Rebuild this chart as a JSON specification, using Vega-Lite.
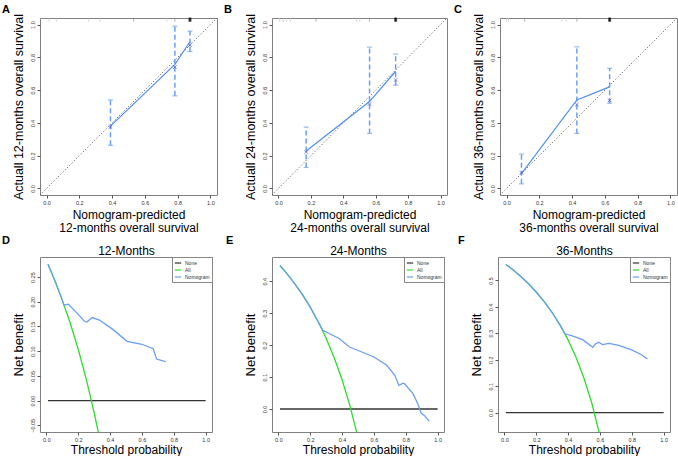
{
 "$schema": "https://vega.github.io/schema/vega-lite/v6.json",
 "background": "white",
 "padding": {"left": 1, "top": 3, "right": 0, "bottom": 0},
 "datasets": {
  "diag": [{"x": -0.04, "y": -0.04}, {"x": 1.04, "y": 1.04}],
  "calA": [{"x": 0.39, "obs": 0.38, "bc": 0.375, "lo": 0.263, "hi": 0.54}, {"x": 0.783, "obs": 0.757, "bc": 0.74, "lo": 0.565, "hi": 0.99}, {"x": 0.875, "obs": 0.895, "bc": 0.875, "lo": 0.836, "hi": 0.96}],
  "calB": [{"x": 0.171, "obs": 0.229, "bc": 0.222, "lo": 0.128, "hi": 0.374}, {"x": 0.562, "obs": 0.53, "bc": 0.515, "lo": 0.336, "hi": 0.862}, {"x": 0.723, "obs": 0.715, "bc": 0.662, "lo": 0.63, "hi": 0.82}],
  "calC": [{"x": 0.091, "obs": 0.09, "bc": 0.095, "lo": 0.028, "hi": 0.21}, {"x": 0.429, "obs": 0.54, "bc": 0.512, "lo": 0.336, "hi": 0.864}, {"x": 0.629, "obs": 0.62, "bc": 0.538, "lo": 0.52, "hi": 0.733}],
  "rugA": [{"x": 0.016, "kind": "light"}, {"x": 0.06, "kind": "light"}, {"x": 0.257, "kind": "light"}, {"x": 0.325, "kind": "light"}, {"x": 0.532, "kind": "mid"}, {"x": 0.733, "kind": "light"}, {"x": 0.783, "kind": "mid"}, {"x": 0.875, "kind": "dark"}],
  "rugB": [{"x": 0.006, "kind": "light"}, {"x": 0.03, "kind": "light"}, {"x": 0.05, "kind": "light"}, {"x": 0.074, "kind": "light"}, {"x": 0.231, "kind": "mid"}, {"x": 0.482, "kind": "light"}, {"x": 0.502, "kind": "light"}, {"x": 0.562, "kind": "mid"}, {"x": 0.723, "kind": "dark"}],
  "rugC": [{"x": 0.0, "kind": "light"}, {"x": 0.012, "kind": "light"}, {"x": 0.111, "kind": "mid"}, {"x": 0.336, "kind": "light"}, {"x": 0.363, "kind": "light"}, {"x": 0.429, "kind": "mid"}, {"x": 0.629, "kind": "dark"}],
  "dcaD": [
   {"model": "None", "pt": 0.01, "nb": 0}, {"model": "None", "pt": 1.0, "nb": 0},
   {"model": "All", "pt": 0.01, "nb": 0.2758}, {"model": "All", "pt": 0.05, "nb": 0.2453}, {"model": "All", "pt": 0.1, "nb": 0.2033}, {"model": "All", "pt": 0.15, "nb": 0.1565}, {"model": "All", "pt": 0.2, "nb": 0.1038}, {"model": "All", "pt": 0.25, "nb": 0.044}, {"model": "All", "pt": 0.3, "nb": -0.0243}, {"model": "All", "pt": 0.33, "nb": -0.0701},
   {"model": "Nomogram", "pt": 0.01, "nb": 0.2758}, {"model": "Nomogram", "pt": 0.05, "nb": 0.2453}, {"model": "Nomogram", "pt": 0.1, "nb": 0.2033}, {"model": "Nomogram", "pt": 0.11, "nb": 0.193}, {"model": "Nomogram", "pt": 0.138, "nb": 0.195}, {"model": "Nomogram", "pt": 0.19, "nb": 0.178}, {"model": "Nomogram", "pt": 0.24, "nb": 0.16}, {"model": "Nomogram", "pt": 0.255, "nb": 0.159}, {"model": "Nomogram", "pt": 0.287, "nb": 0.168}, {"model": "Nomogram", "pt": 0.333, "nb": 0.163}, {"model": "Nomogram", "pt": 0.415, "nb": 0.1446}, {"model": "Nomogram", "pt": 0.507, "nb": 0.12}, {"model": "Nomogram", "pt": 0.6, "nb": 0.114}, {"model": "Nomogram", "pt": 0.671, "nb": 0.105}, {"model": "Nomogram", "pt": 0.692, "nb": 0.084}, {"model": "Nomogram", "pt": 0.749, "nb": 0.079}
  ],
  "dcaE": [
   {"model": "None", "pt": 0.01, "nb": 0}, {"model": "None", "pt": 1.0, "nb": 0},
   {"model": "All", "pt": 0.01, "nb": 0.4495}, {"model": "All", "pt": 0.05, "nb": 0.4263}, {"model": "All", "pt": 0.1, "nb": 0.3944}, {"model": "All", "pt": 0.15, "nb": 0.3588}, {"model": "All", "pt": 0.2, "nb": 0.319}, {"model": "All", "pt": 0.25, "nb": 0.2733}, {"model": "All", "pt": 0.28, "nb": 0.2431}, {"model": "All", "pt": 0.3, "nb": 0.2214}, {"model": "All", "pt": 0.35, "nb": 0.1615}, {"model": "All", "pt": 0.4, "nb": 0.0917}, {"model": "All", "pt": 0.45, "nb": 0.0091}, {"model": "All", "pt": 0.5, "nb": -0.09},
   {"model": "Nomogram", "pt": 0.01, "nb": 0.4495}, {"model": "Nomogram", "pt": 0.05, "nb": 0.4263}, {"model": "Nomogram", "pt": 0.1, "nb": 0.3944}, {"model": "Nomogram", "pt": 0.15, "nb": 0.3588}, {"model": "Nomogram", "pt": 0.2, "nb": 0.319}, {"model": "Nomogram", "pt": 0.25, "nb": 0.2733}, {"model": "Nomogram", "pt": 0.28, "nb": 0.246}, {"model": "Nomogram", "pt": 0.313, "nb": 0.238}, {"model": "Nomogram", "pt": 0.384, "nb": 0.22}, {"model": "Nomogram", "pt": 0.446, "nb": 0.194}, {"model": "Nomogram", "pt": 0.497, "nb": 0.184}, {"model": "Nomogram", "pt": 0.6, "nb": 0.163}, {"model": "Nomogram", "pt": 0.681, "nb": 0.137}, {"model": "Nomogram", "pt": 0.732, "nb": 0.105}, {"model": "Nomogram", "pt": 0.757, "nb": 0.074}, {"model": "Nomogram", "pt": 0.783, "nb": 0.081}, {"model": "Nomogram", "pt": 0.793, "nb": 0.079}, {"model": "Nomogram", "pt": 0.845, "nb": 0.048}, {"model": "Nomogram", "pt": 0.875, "nb": 0.017}, {"model": "Nomogram", "pt": 0.896, "nb": -0.0125}, {"model": "Nomogram", "pt": 0.916, "nb": -0.02}, {"model": "Nomogram", "pt": 0.947, "nb": -0.038}
  ],
  "dcaF": [
   {"model": "None", "pt": 0.01, "nb": 0}, {"model": "None", "pt": 1.0, "nb": 0},
   {"model": "All", "pt": 0.01, "nb": 0.5606}, {"model": "All", "pt": 0.05, "nb": 0.5421}, {"model": "All", "pt": 0.1, "nb": 0.5167}, {"model": "All", "pt": 0.15, "nb": 0.4882}, {"model": "All", "pt": 0.2, "nb": 0.4562}, {"model": "All", "pt": 0.25, "nb": 0.42}, {"model": "All", "pt": 0.3, "nb": 0.3786}, {"model": "All", "pt": 0.35, "nb": 0.3308}, {"model": "All", "pt": 0.38, "nb": 0.298}, {"model": "All", "pt": 0.4, "nb": 0.275}, {"model": "All", "pt": 0.45, "nb": 0.2091}, {"model": "All", "pt": 0.5, "nb": 0.13}, {"model": "All", "pt": 0.55, "nb": 0.0333}, {"model": "All", "pt": 0.6, "nb": -0.0875},
   {"model": "Nomogram", "pt": 0.01, "nb": 0.5606}, {"model": "Nomogram", "pt": 0.05, "nb": 0.5421}, {"model": "Nomogram", "pt": 0.1, "nb": 0.5167}, {"model": "Nomogram", "pt": 0.15, "nb": 0.4882}, {"model": "Nomogram", "pt": 0.2, "nb": 0.4562}, {"model": "Nomogram", "pt": 0.25, "nb": 0.42}, {"model": "Nomogram", "pt": 0.3, "nb": 0.3786}, {"model": "Nomogram", "pt": 0.35, "nb": 0.3308}, {"model": "Nomogram", "pt": 0.38, "nb": 0.298}, {"model": "Nomogram", "pt": 0.422, "nb": 0.291}, {"model": "Nomogram", "pt": 0.494, "nb": 0.275}, {"model": "Nomogram", "pt": 0.555, "nb": 0.247}, {"model": "Nomogram", "pt": 0.571, "nb": 0.259}, {"model": "Nomogram", "pt": 0.592, "nb": 0.266}, {"model": "Nomogram", "pt": 0.616, "nb": 0.257}, {"model": "Nomogram", "pt": 0.657, "nb": 0.262}, {"model": "Nomogram", "pt": 0.718, "nb": 0.254}, {"model": "Nomogram", "pt": 0.8, "nb": 0.237}, {"model": "Nomogram", "pt": 0.861, "nb": 0.219}, {"model": "Nomogram", "pt": 0.898, "nb": 0.2025}
  ]
 },
 "config": {
  "font": "Liberation Sans",
  "view": {"stroke": "#808080", "strokeWidth": 1},
  "axis": {"domain": false, "grid": false, "tickColor": "#555555", "tickSize": 3, "labelFontSize": 5.5, "labelColor": "#333333", "labelPadding": 2, "labelOverlap": false, "labelFlush": false, "titleFontWeight": "normal", "titleColor": "#000000", "titleFontSize": 12, "titleLineHeight": 13, "titlePadding": 4},
  "axisY": {"labelAngle": 270, "labelAlign": "center", "labelBaseline": "bottom", "titleFontSize": 12.5, "titlePadding": 5},
  "legend": {"orient": "top-right", "offset": 0, "title": null, "strokeColor": "#888888", "fillColor": "white", "padding": 2, "labelFontSize": 5, "labelColor": "#333333", "symbolType": "stroke", "symbolSize": 40, "symbolStrokeWidth": 1.2, "rowPadding": 0, "labelOffset": 3},
  "title": {"anchor": "start", "frame": "group", "fontSize": 11, "fontWeight": "bold", "offset": -2, "color": "#000000"}
 },
 "spacing": 0,
 "resolve": {"scale": {"x": "independent", "y": "independent", "color": "independent"}, "legend": {"color": "independent"}},
 "vconcat": [
  {
   "spacing": 3,
   "resolve": {"scale": {"x": "independent", "y": "independent", "color": "independent"}},
   "hconcat": [
    {
     "width": 177, "height": 177,
     "title": {"text": "A", "dx": -38},
     "resolve": {"axis": {"x": "independent", "y": "independent"}},
     "layer": [
      {"data": {"name": "diag"}, "mark": {"type": "line", "color": "#444444", "strokeWidth": 0.8, "strokeDash": [1.2, 2]},
       "encoding": {"x": {"field": "x", "type": "quantitative", "scale": {"domain": [-0.04, 1.04], "nice": false, "zero": false}, "axis": {"values": [0, 0.2, 0.4, 0.6, 0.8, 1], "format": ".1f", "title": ["Nomogram-predicted", "12-months overall survival"]}},
                    "y": {"field": "y", "type": "quantitative", "scale": {"domain": [-0.04, 1.04], "nice": false, "zero": false}, "axis": {"values": [0, 0.2, 0.4, 0.6, 0.8, 1], "format": ".1f", "title": "Actuall 12-months overall survival"}}}},
      {"data": {"name": "rugA"}, "mark": {"type": "tick", "orient": "vertical", "size": 4, "thickness": 1},
       "encoding": {"x": {"field": "x", "type": "quantitative", "axis": null}, "y": {"datum": 1.03, "type": "quantitative", "axis": null}, "color": {"field": "kind", "type": "nominal", "scale": {"domain": ["light", "mid", "dark"], "range": ["#c8c8c8", "#909090", "#000000"]}, "legend": null}}},
      {"data": {"name": "rugA"}, "transform": [{"filter": "datum.kind == 'dark'"}], "mark": {"type": "tick", "orient": "vertical", "size": 4, "thickness": 3, "color": "#000000"},
       "encoding": {"x": {"field": "x", "type": "quantitative", "axis": null}, "y": {"datum": 1.03, "type": "quantitative", "axis": null}}},
      {"data": {"name": "calA"}, "mark": {"type": "rule", "color": "#6a9ff0", "strokeWidth": 1.5, "strokeDash": [5, 3]},
       "encoding": {"x": {"field": "x", "type": "quantitative", "axis": null}, "y": {"field": "lo", "type": "quantitative", "axis": null}, "y2": {"field": "hi"}}},
      {"data": {"name": "calA"}, "mark": {"type": "tick", "orient": "horizontal", "size": 5, "thickness": 1.2, "color": "#6a9ff0"},
       "encoding": {"x": {"field": "x", "type": "quantitative", "axis": null}, "y": {"field": "lo", "type": "quantitative", "axis": null}}},
      {"data": {"name": "calA"}, "mark": {"type": "tick", "orient": "horizontal", "size": 5, "thickness": 1.2, "color": "#6a9ff0"},
       "encoding": {"x": {"field": "x", "type": "quantitative", "axis": null}, "y": {"field": "hi", "type": "quantitative", "axis": null}}},
      {"data": {"name": "calA"}, "mark": {"type": "line", "color": "#4f8ff0", "strokeWidth": 1.2},
       "encoding": {"x": {"field": "x", "type": "quantitative", "axis": null}, "y": {"field": "obs", "type": "quantitative", "axis": null}}},
      {"data": {"name": "calA"}, "mark": {"type": "point", "shape": "M-1,-1L1,1M-1,1L1,-1", "filled": false, "size": 12, "strokeWidth": 1, "color": "#5050c8"},
       "encoding": {"x": {"field": "x", "type": "quantitative", "axis": null}, "y": {"field": "bc", "type": "quantitative", "axis": null}}}
     ]
    },
    {
     "width": 175, "height": 177,
     "title": {"text": "B", "dx": -48},
     "resolve": {"axis": {"x": "independent", "y": "independent"}},
     "layer": [
      {"data": {"name": "diag"}, "mark": {"type": "line", "color": "#444444", "strokeWidth": 0.8, "strokeDash": [1.2, 2]},
       "encoding": {"x": {"field": "x", "type": "quantitative", "scale": {"domain": [-0.04, 1.04], "nice": false, "zero": false}, "axis": {"values": [0, 0.2, 0.4, 0.6, 0.8, 1], "format": ".1f", "title": ["Nomogram-predicted", "24-months overall survival"]}},
                    "y": {"field": "y", "type": "quantitative", "scale": {"domain": [-0.04, 1.04], "nice": false, "zero": false}, "axis": {"values": [0, 0.2, 0.4, 0.6, 0.8, 1], "format": ".1f", "title": "Actuall 24-months overall survival"}}}},
      {"data": {"name": "rugB"}, "mark": {"type": "tick", "orient": "vertical", "size": 4, "thickness": 1},
       "encoding": {"x": {"field": "x", "type": "quantitative", "axis": null}, "y": {"datum": 1.03, "type": "quantitative", "axis": null}, "color": {"field": "kind", "type": "nominal", "scale": {"domain": ["light", "mid", "dark"], "range": ["#c8c8c8", "#909090", "#000000"]}, "legend": null}}},
      {"data": {"name": "rugB"}, "transform": [{"filter": "datum.kind == 'dark'"}], "mark": {"type": "tick", "orient": "vertical", "size": 4, "thickness": 3, "color": "#000000"},
       "encoding": {"x": {"field": "x", "type": "quantitative", "axis": null}, "y": {"datum": 1.03, "type": "quantitative", "axis": null}}},
      {"data": {"name": "calB"}, "mark": {"type": "rule", "color": "#6a9ff0", "strokeWidth": 1.5, "strokeDash": [5, 3]},
       "encoding": {"x": {"field": "x", "type": "quantitative", "axis": null}, "y": {"field": "lo", "type": "quantitative", "axis": null}, "y2": {"field": "hi"}}},
      {"data": {"name": "calB"}, "mark": {"type": "tick", "orient": "horizontal", "size": 5, "thickness": 1.2, "color": "#6a9ff0"},
       "encoding": {"x": {"field": "x", "type": "quantitative", "axis": null}, "y": {"field": "lo", "type": "quantitative", "axis": null}}},
      {"data": {"name": "calB"}, "mark": {"type": "tick", "orient": "horizontal", "size": 5, "thickness": 1.2, "color": "#6a9ff0"},
       "encoding": {"x": {"field": "x", "type": "quantitative", "axis": null}, "y": {"field": "hi", "type": "quantitative", "axis": null}}},
      {"data": {"name": "calB"}, "mark": {"type": "line", "color": "#4f8ff0", "strokeWidth": 1.2},
       "encoding": {"x": {"field": "x", "type": "quantitative", "axis": null}, "y": {"field": "obs", "type": "quantitative", "axis": null}}},
      {"data": {"name": "calB"}, "mark": {"type": "point", "shape": "M-1,-1L1,1M-1,1L1,-1", "filled": false, "size": 12, "strokeWidth": 1, "color": "#5050c8"},
       "encoding": {"x": {"field": "x", "type": "quantitative", "axis": null}, "y": {"field": "bc", "type": "quantitative", "axis": null}}}
     ]
    },
    {
     "width": 177, "height": 177,
     "title": {"text": "C", "dx": -46},
     "resolve": {"axis": {"x": "independent", "y": "independent"}},
     "layer": [
      {"data": {"name": "diag"}, "mark": {"type": "line", "color": "#444444", "strokeWidth": 0.8, "strokeDash": [1.2, 2]},
       "encoding": {"x": {"field": "x", "type": "quantitative", "scale": {"domain": [-0.04, 1.04], "nice": false, "zero": false}, "axis": {"values": [0, 0.2, 0.4, 0.6, 0.8, 1], "format": ".1f", "title": ["Nomogram-predicted", "36-months overall survival"]}},
                    "y": {"field": "y", "type": "quantitative", "scale": {"domain": [-0.04, 1.04], "nice": false, "zero": false}, "axis": {"values": [0, 0.2, 0.4, 0.6, 0.8, 1], "format": ".1f", "title": "Actuall 36-months overall survival"}}}},
      {"data": {"name": "rugC"}, "mark": {"type": "tick", "orient": "vertical", "size": 4, "thickness": 1},
       "encoding": {"x": {"field": "x", "type": "quantitative", "axis": null}, "y": {"datum": 1.03, "type": "quantitative", "axis": null}, "color": {"field": "kind", "type": "nominal", "scale": {"domain": ["light", "mid", "dark"], "range": ["#c8c8c8", "#909090", "#000000"]}, "legend": null}}},
      {"data": {"name": "rugC"}, "transform": [{"filter": "datum.kind == 'dark'"}], "mark": {"type": "tick", "orient": "vertical", "size": 4, "thickness": 3, "color": "#000000"},
       "encoding": {"x": {"field": "x", "type": "quantitative", "axis": null}, "y": {"datum": 1.03, "type": "quantitative", "axis": null}}},
      {"data": {"name": "calC"}, "mark": {"type": "rule", "color": "#6a9ff0", "strokeWidth": 1.5, "strokeDash": [5, 3]},
       "encoding": {"x": {"field": "x", "type": "quantitative", "axis": null}, "y": {"field": "lo", "type": "quantitative", "axis": null}, "y2": {"field": "hi"}}},
      {"data": {"name": "calC"}, "mark": {"type": "tick", "orient": "horizontal", "size": 5, "thickness": 1.2, "color": "#6a9ff0"},
       "encoding": {"x": {"field": "x", "type": "quantitative", "axis": null}, "y": {"field": "lo", "type": "quantitative", "axis": null}}},
      {"data": {"name": "calC"}, "mark": {"type": "tick", "orient": "horizontal", "size": 5, "thickness": 1.2, "color": "#6a9ff0"},
       "encoding": {"x": {"field": "x", "type": "quantitative", "axis": null}, "y": {"field": "hi", "type": "quantitative", "axis": null}}},
      {"data": {"name": "calC"}, "mark": {"type": "line", "color": "#4f8ff0", "strokeWidth": 1.2},
       "encoding": {"x": {"field": "x", "type": "quantitative", "axis": null}, "y": {"field": "obs", "type": "quantitative", "axis": null}}},
      {"data": {"name": "calC"}, "mark": {"type": "point", "shape": "M-1,-1L1,1M-1,1L1,-1", "filled": false, "size": 12, "strokeWidth": 1, "color": "#5050c8"},
       "encoding": {"x": {"field": "x", "type": "quantitative", "axis": null}, "y": {"field": "bc", "type": "quantitative", "axis": null}}}
     ]
    }
   ]
  },
  {
   "spacing": 12,
   "resolve": {"scale": {"x": "independent", "y": "independent", "color": "independent"}, "legend": {"color": "independent"}},
   "hconcat": [
    {
     "width": 172, "height": 175,
     "title": {"text": "D", "dx": -38, "offset": -2},
     "data": {"name": "dcaD"},
     "resolve": {"axis": {"x": "independent", "y": "independent"}},
     "layer": [
      {
       "encoding": {
        "x": {"field": "pt", "type": "quantitative", "scale": {"domain": [-0.04, 1.04], "nice": false, "zero": false}, "axis": {"values": [0, 0.2, 0.4, 0.6, 0.8, 1], "format": ".1f", "title": "Threshold probability", "titlePadding": 2}},
        "y": {"field": "nb", "type": "quantitative", "scale": {"domain": [-0.0635, 0.2905], "nice": false, "zero": false}, "axis": {"values": [-0.05, 0, 0.05, 0.1, 0.15, 0.2, 0.25], "format": ".2f", "title": "Net benefit", "titleFontSize": 13}},
        "color": {"field": "model", "type": "nominal", "scale": {"domain": ["None", "All", "Nomogram"], "range": ["#333333", "#2edc2e", "#6a9ff0"]}, "legend": {"orient": "top-right", "offset": 0}}
       },
       "layer": [
        {"transform": [{"filter": "datum.model == 'None'"}], "mark": {"type": "line", "strokeWidth": 1.3, "clip": true}},
        {"transform": [{"filter": "datum.model == 'All'"}], "mark": {"type": "line", "strokeWidth": 1.3, "clip": true}},
        {"transform": [{"filter": "datum.model == 'Nomogram'"}], "mark": {"type": "line", "strokeWidth": 1.3, "clip": true}}
       ]
      },
      {
       "transform": [{"filter": "datum.model == 'None'"}],
       "mark": {"type": "line", "strokeOpacity": 0},
       "encoding": {
        "x": {"field": "pt", "type": "quantitative", "axis": {"orient": "top", "title": "12-Months", "labels": false, "ticks": false, "domain": false, "titleFontSize": 12, "titlePadding": 0, "minExtent": 0, "maxExtent": 0}},
        "y": {"field": "nb", "type": "quantitative", "axis": null}
       }
      }
     ]
    },
    {
     "width": 172, "height": 175,
     "title": {"text": "E", "dx": -46, "offset": -2},
     "data": {"name": "dcaE"},
     "resolve": {"axis": {"x": "independent", "y": "independent"}},
     "layer": [
      {
       "encoding": {
        "x": {"field": "pt", "type": "quantitative", "scale": {"domain": [-0.04, 1.04], "nice": false, "zero": false}, "axis": {"values": [0, 0.2, 0.4, 0.6, 0.8, 1], "format": ".1f", "title": "Threshold probability", "titlePadding": 2}},
        "y": {"field": "nb", "type": "quantitative", "scale": {"domain": [-0.072, 0.476], "nice": false, "zero": false}, "axis": {"values": [0, 0.1, 0.2, 0.3, 0.4], "format": ".1f", "title": "Net benefit", "titleFontSize": 13}},
        "color": {"field": "model", "type": "nominal", "scale": {"domain": ["None", "All", "Nomogram"], "range": ["#333333", "#2edc2e", "#6a9ff0"]}, "legend": {"orient": "top-right", "offset": 0}}
       },
       "layer": [
        {"transform": [{"filter": "datum.model == 'None'"}], "mark": {"type": "line", "strokeWidth": 1.3, "clip": true}},
        {"transform": [{"filter": "datum.model == 'All'"}], "mark": {"type": "line", "strokeWidth": 1.3, "clip": true}},
        {"transform": [{"filter": "datum.model == 'Nomogram'"}], "mark": {"type": "line", "strokeWidth": 1.3, "clip": true}}
       ]
      },
      {
       "transform": [{"filter": "datum.model == 'None'"}],
       "mark": {"type": "line", "strokeOpacity": 0},
       "encoding": {
        "x": {"field": "pt", "type": "quantitative", "axis": {"orient": "top", "title": "24-Months", "labels": false, "ticks": false, "domain": false, "titleFontSize": 12, "titlePadding": 0, "minExtent": 0, "maxExtent": 0}},
        "y": {"field": "nb", "type": "quantitative", "axis": null}
       }
      }
     ]
    },
    {
     "width": 172, "height": 175,
     "title": {"text": "F", "dx": -40, "offset": -2},
     "data": {"name": "dcaF"},
     "resolve": {"axis": {"x": "independent", "y": "independent"}},
     "layer": [
      {
       "encoding": {
        "x": {"field": "pt", "type": "quantitative", "scale": {"domain": [-0.04, 1.04], "nice": false, "zero": false}, "axis": {"values": [0, 0.2, 0.4, 0.6, 0.8, 1], "format": ".1f", "title": "Threshold probability", "titlePadding": 2}},
        "y": {"field": "nb", "type": "quantitative", "scale": {"domain": [-0.0734, 0.5886], "nice": false, "zero": false}, "axis": {"values": [0, 0.1, 0.2, 0.3, 0.4, 0.5], "format": ".1f", "title": "Net benefit", "titleFontSize": 13}},
        "color": {"field": "model", "type": "nominal", "scale": {"domain": ["None", "All", "Nomogram"], "range": ["#333333", "#2edc2e", "#6a9ff0"]}, "legend": {"orient": "top-right", "offset": 0}}
       },
       "layer": [
        {"transform": [{"filter": "datum.model == 'None'"}], "mark": {"type": "line", "strokeWidth": 1.3, "clip": true}},
        {"transform": [{"filter": "datum.model == 'All'"}], "mark": {"type": "line", "strokeWidth": 1.3, "clip": true}},
        {"transform": [{"filter": "datum.model == 'Nomogram'"}], "mark": {"type": "line", "strokeWidth": 1.3, "clip": true}}
       ]
      },
      {
       "transform": [{"filter": "datum.model == 'None'"}],
       "mark": {"type": "line", "strokeOpacity": 0},
       "encoding": {
        "x": {"field": "pt", "type": "quantitative", "axis": {"orient": "top", "title": "36-Months", "labels": false, "ticks": false, "domain": false, "titleFontSize": 12, "titlePadding": 0, "minExtent": 0, "maxExtent": 0}},
        "y": {"field": "nb", "type": "quantitative", "axis": null}
       }
      }
     ]
    }
   ]
  }
 ]
}
